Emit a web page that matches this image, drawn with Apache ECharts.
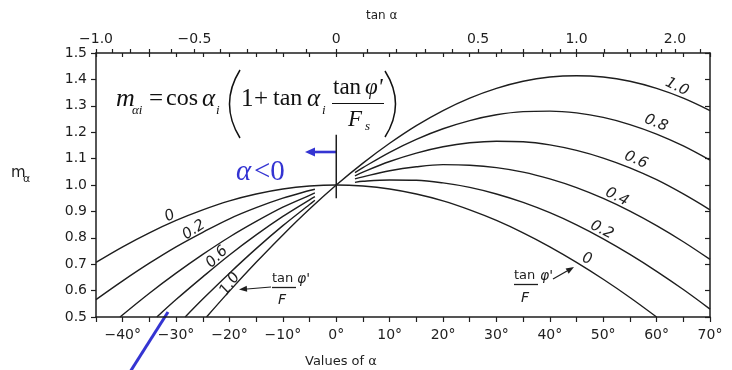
<!DOCTYPE html>
<html>
<head>
<meta charset="utf-8">
<script src="https://cdn.jsdelivr.net/npm/echarts@6/dist/echarts.min.js"></script>
<style>
  html, body { margin: 0; padding: 0; background: #ffffff; }
  #chart { width: 732px; height: 370px; }
</style>
</head>
<body>
<div id="chart"></div>
<script>
// Slice inclination factor m_alpha against base angle alpha, one curve per tan(phi')/F.

// Angle ticks and the tan(alpha) scale shown along the top edge
const tanMajor = [-1.0, -0.5, 0, 0.5, 1.0, 2.0];
const tanMajorText = ['\u22121.0', '\u22120.5', '0', '0.5', '1.0', '2.0'];
const tanMinor = [-1.0, -0.9, -0.8, -0.7, -0.6, -0.5, -0.4, -0.3, -0.2, -0.1, 0,
                  0.1, 0.2, 0.3, 0.4, 0.5, 0.6, 0.7, 0.8, 0.9, 1.0,
                  1.2, 1.4, 1.6, 1.8, 2.0, 2.5];

// tan(phi')/F = 0 (full range)
const alpha0 = [-45, -40, -35, -30, -25, -20, -15, -10, -5, 0, 5, 10, 15, 20, 25, 30, 35, 40, 45, 50, 55, 60];
const m0     = [0.707, 0.766, 0.819, 0.866, 0.906, 0.940, 0.966, 0.985, 0.996, 1.000, 0.996, 0.985, 0.966, 0.940, 0.906, 0.866, 0.819, 0.766, 0.707, 0.643, 0.574, 0.500];

// tan(phi')/F = 1.0 (full range)
const alpha10 = [-24.3, -20, -15, -10, -5, 0, 5, 10, 15, 20, 25, 30, 35, 40, 45, 50, 55, 60, 65, 70];
const m10     = [0.500, 0.598, 0.707, 0.811, 0.909, 1.000, 1.083, 1.158, 1.225, 1.282, 1.329, 1.366, 1.393, 1.409, 1.414, 1.409, 1.393, 1.366, 1.329, 1.282];

// Negative-alpha branches
const alphaL02 = [-45, -40, -35, -30, -25, -20, -15, -10, -5, -4];
const mL02     = [0.566, 0.637, 0.704, 0.766, 0.821, 0.872, 0.914, 0.950, 0.979, 0.984];
const alphaL04 = [-40.5, -35, -30, -25, -20, -15, -10, -5, -4];
const mL04     = [0.500, 0.590, 0.666, 0.737, 0.803, 0.862, 0.916, 0.961, 0.970];
const alphaL06 = [-33.6, -30, -25, -20, -15, -10, -5, -4];
const mL06     = [0.500, 0.566, 0.652, 0.735, 0.811, 0.881, 0.944, 0.956];
const alphaL08 = [-28.3, -25, -20, -15, -10, -5, -4];
const mL08     = [0.500, 0.568, 0.666, 0.759, 0.846, 0.926, 0.942];

// Positive-alpha branches
const alphaR = [3.5, 5, 10, 15, 20, 25, 30, 35, 40, 45, 50, 55, 60, 65, 70];
const mR02   = [1.010, 1.014, 1.019, 1.018, 1.008, 0.991, 0.966, 0.934, 0.895, 0.849, 0.796, 0.737, 0.673, 0.604, 0.530];
const mR04   = [1.023, 1.031, 1.054, 1.069, 1.077, 1.075, 1.066, 1.049, 1.023, 0.990, 0.949, 0.901, 0.846, 0.785, 0.718];
const mR06   = [1.035, 1.049, 1.089, 1.121, 1.145, 1.160, 1.166, 1.164, 1.152, 1.131, 1.102, 1.065, 1.020, 0.966, 0.906];
const mR08   = [1.047, 1.066, 1.124, 1.173, 1.213, 1.244, 1.266, 1.278, 1.280, 1.273, 1.256, 1.229, 1.193, 1.148, 1.094];

// Marker at alpha = 0
const zeroAlpha = [0, 0];
const zeroM = [1.19, 0.95];

const INK = '#1e1e1e';
const BLUE = '#3434d2';
const SANS = '"DejaVu Sans", Lato, sans-serif';
const SERIF = '"Liberation Serif", "DejaVu Serif", serif';

const toDeg = t => Math.atan(t) * 180 / Math.PI;
const pairs = (xs, ys) => xs.map((x, i) => [x, ys[i]]);
const degLabel = v => (v < 0 ? '\u2212' + Math.abs(v) : String(v)) + '\u00b0';

function curve(xs, ys) {
  return {
    type: 'line', data: pairs(xs, ys), smooth: 0.35, showSymbol: false, symbol: 'none',
    xAxisIndex: 0, yAxisIndex: 0, silent: true,
    lineStyle: { color: INK, width: 1.4 }
  };
}

function txt(text, x, y, size, style) {
  return {
    type: 'text', x: x, y: y, silent: true,
    style: Object.assign({
      text: text, fontSize: size, fontFamily: SANS, fill: INK,
      align: 'left', verticalAlign: 'middle'
    }, style || {})
  };
}

// deg > 0 tilts the text counter-clockwise (rising to the right)
function rotLabel(text, cx, cy, deg) {
  return {
    type: 'text', x: cx, y: cy, rotation: deg * Math.PI / 180, silent: true,
    style: { text: text, fontSize: 15, fontFamily: SANS, fontStyle: 'italic', fill: INK,
             align: 'center', verticalAlign: 'middle' }
  };
}

function line(x1, y1, x2, y2, color, w) {
  return { type: 'line', silent: true, shape: { x1, y1, x2, y2 },
           style: { stroke: color, lineWidth: w } };
}

function head(tipX, tipY, dirX, dirY, len, half, color) {
  const n = Math.hypot(dirX, dirY), ux = dirX / n, uy = dirY / n;
  const bx = tipX - ux * len, by = tipY - uy * len;
  return { type: 'polygon', silent: true,
           shape: { points: [[tipX, tipY], [bx - uy * half, by + ux * half], [bx + uy * half, by - ux * half]] },
           style: { fill: color } };
}

const serif = (text, x, y, size, italic, color) => txt(text, x, y, size, {
  fontFamily: SERIF, fontStyle: italic ? 'italic' : 'normal', fill: color || '#111'
});

const graphics = [
  // axis titles
  txt('tan \u03b1', 366, 16, 12),
  txt('Values of \u03b1', 305, 362, 13),
  txt('m', 11, 173, 15),
  txt('\u03b1', 23, 179, 11),

  // formula
  serif('m', 116, 99, 26, true),
  serif('\u03b1i', 132, 111, 13, true),
  serif('=', 149, 99, 25, false),
  serif('cos', 166, 99, 24, false),
  serif('\u03b1', 202, 99, 25, true),
  serif('i', 216, 111, 13, true),
  serif('1', 241, 99, 25, false),
  serif('+', 254, 99, 25, false),
  serif('tan', 273, 99, 24, false),
  serif('\u03b1', 307, 99, 25, true),
  serif('i', 322, 111, 13, true),
  serif('tan', 333, 88, 23, false),
  serif('\u03c6\'', 365, 88, 23, true),
  line(332, 103.5, 384, 103.5, '#111', 1.2),
  serif('F', 348, 120, 23, true),
  serif('s', 365, 127, 13, true),
  { type: 'bezierCurve', silent: true,
    shape: { x1: 240, y1: 70, x2: 240, y2: 138, cpx1: 219, cpy1: 104 },
    style: { stroke: '#111', lineWidth: 1.5, fill: null } },
  { type: 'bezierCurve', silent: true,
    shape: { x1: 385, y1: 71, x2: 385, y2: 137, cpx1: 406, cpy1: 104 },
    style: { stroke: '#111', lineWidth: 1.5, fill: null } },

  // alpha < 0 annotation
  serif('\u03b1', 236, 172, 29, true, BLUE),
  serif('<0', 254, 172, 29, false, BLUE),
  line(336, 152, 313, 152, BLUE, 2.6),
  head(305, 152, -1, 0, 10, 4.5, BLUE),
  line(168, 312, 130, 372, BLUE, 3),

  // curve labels, positive side
  rotLabel('1.0', 677, 87, -26),
  rotLabel('0.8', 656, 123, -22),
  rotLabel('0.6', 636, 160, -24),
  rotLabel('0.4', 617, 197, -27),
  rotLabel('0.2', 602, 230, -27),
  rotLabel('0', 587, 259, -15),
  txt('tan', 514, 276, 13),
  txt('\u03c6\'', 540, 276, 14, { fontStyle: 'italic' }),
  line(514, 284.5, 538, 284.5, INK, 1.3),
  txt('F', 521, 298, 14, { fontStyle: 'italic' }),
  line(553, 279, 567, 271, INK, 1.2),
  head(574, 267, 1, -0.6, 8, 3, INK),

  // curve labels, negative side
  rotLabel('0', 170, 216, 25),
  rotLabel('0.2', 194, 230, 33),
  rotLabel('0.6', 217, 257, 45),
  rotLabel('1.0', 230, 284, 55),
  txt('tan', 272, 279, 13),
  txt('\u03c6\'', 297, 279, 14, { fontStyle: 'italic' }),
  line(272, 287.5, 296, 287.5, INK, 1.3),
  txt('F', 278, 300, 14, { fontStyle: 'italic' }),
  line(271, 287, 247, 289, INK, 1.2),
  head(239, 289.5, -1, 0.08, 8, 3, INK)
];

const axisLineStyle = { color: INK, width: 1.5 };
const tickStyle = { color: INK, width: 1.2 };
const labelFont = { fontSize: 14, fontFamily: SANS, color: INK };

const option = {
  animation: false,
  backgroundColor: '#ffffff',
  grid: { left: 96, right: 22, top: 53, bottom: 53, containLabel: false },
  xAxis: [
    {
      type: 'value', position: 'bottom', min: -45, max: 70, interval: 5,
      axisLine: { show: true, onZero: false, lineStyle: axisLineStyle },
      axisTick: { show: true, inside: false, length: 5, lineStyle: tickStyle },
      axisLabel: Object.assign({ formatter: v => (v % 10 === 0 ? degLabel(v) : ''), margin: 11 }, labelFont),
      splitLine: { show: false }
    },
    {
      type: 'value', position: 'top', min: -45, max: 70, interval: 5,
      axisLine: { show: true, onZero: false, lineStyle: axisLineStyle },
      axisTick: { show: true, inside: true, length: 4, lineStyle: tickStyle },
      axisLabel: { show: false },
      splitLine: { show: false }
    },
    {
      type: 'value', position: 'top', min: -45, max: 70,
      axisLine: { show: false, onZero: false },
      axisTick: { show: true, inside: false, length: 4, lineStyle: tickStyle,
                  customValues: tanMinor.map(toDeg) },
      axisLabel: Object.assign({
        customValues: tanMajor.map(toDeg),
        formatter: v => {
          let best = 0;
          tanMajor.forEach((t, i) => {
            if (Math.abs(toDeg(t) - v) < Math.abs(toDeg(tanMajor[best]) - v)) best = i;
          });
          return tanMajorText[best];
        },
        margin: 7
      }, labelFont),
      splitLine: { show: false }
    }
  ],
  yAxis: [
    {
      type: 'value', position: 'left', min: 0.5, max: 1.5, interval: 0.1,
      axisLine: { show: true, onZero: false, lineStyle: axisLineStyle },
      axisTick: { show: true, inside: false, length: 5, lineStyle: tickStyle },
      axisLabel: Object.assign({ formatter: v => v.toFixed(1), margin: 9 }, labelFont),
      splitLine: { show: false }
    },
    {
      type: 'value', position: 'right', min: 0.5, max: 1.5, interval: 0.1,
      axisLine: { show: true, onZero: false, lineStyle: axisLineStyle },
      axisTick: { show: true, inside: true, length: 5, lineStyle: tickStyle },
      axisLabel: { show: false },
      splitLine: { show: false }
    }
  ],
  series: [
    curve(alpha0, m0),
    curve(alpha10, m10),
    curve(alphaL02, mL02),
    curve(alphaL04, mL04),
    curve(alphaL06, mL06),
    curve(alphaL08, mL08),
    curve(alphaR, mR02),
    curve(alphaR, mR04),
    curve(alphaR, mR06),
    curve(alphaR, mR08),
    {
      type: 'line', data: pairs(zeroAlpha, zeroM), showSymbol: false, symbol: 'none',
      xAxisIndex: 0, yAxisIndex: 0, silent: true,
      lineStyle: { color: INK, width: 1.5 }
    }
  ],
  graphic: graphics
};

const chart = echarts.init(document.getElementById('chart'), null, { renderer: 'canvas' });
chart.setOption(option);
</script>
</body>
</html>
